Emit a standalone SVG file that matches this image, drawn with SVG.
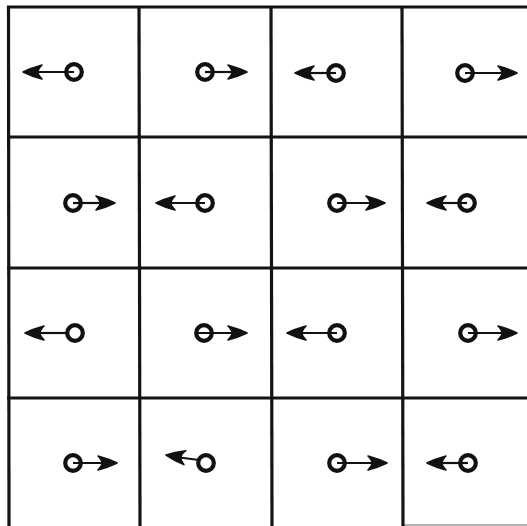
<svg xmlns="http://www.w3.org/2000/svg" xmlns:xlink="http://www.w3.org/1999/xlink" width="527" height="526" viewBox="0 0 527 526">
  <style>
    .grid line { stroke: #141414; stroke-width: 3.2; }
    .grid line.light { stroke: #9a9a9a; stroke-width: 1.5; }
    .ring { fill: none; stroke: #111; stroke-width: 4.2; }
    .shaft { stroke: #111; stroke-width: 2.2; }
    .head { fill: #111; stroke: #111; stroke-width: 1.6; stroke-linejoin: round; }
  </style>
  <defs>
    <path id="head" class="head" d="M0,0 Q-8,-4 -19,-7 Q-15,-3 -15,0 Q-15,3 -19,7 Q-8,4 0,0 Z"/>
  </defs>
  <rect width="527" height="526" fill="#fff"/>
  <g class="grid" id="grid">
    <line x1="7" y1="7" x2="527" y2="7"/>
    <line x1="7" y1="137" x2="527" y2="137"/>
    <line x1="7" y1="268" x2="527" y2="268"/>
    <line x1="7" y1="398" x2="527" y2="398"/>
    <line class="light" x1="403" y1="525" x2="527" y2="525"/>
    <line x1="8.5" y1="6" x2="9" y2="526"/>
    <line x1="139" y1="6" x2="140" y2="526"/>
    <line x1="271" y1="6" x2="272" y2="526"/>
    <line x1="402" y1="6" x2="403" y2="526"/>
  </g>
  <g id="cell-1-1"><line class="shaft" x1="74" y1="72" x2="33" y2="72"/><use href="#head" xlink:href="#head" transform="translate(23,72) rotate(180)"/><circle class="ring" cx="74" cy="72" r="7.8"/></g>
  <g id="cell-1-2"><line class="shaft" x1="205" y1="72" x2="237" y2="72"/><use href="#head" xlink:href="#head" transform="translate(247,72)"/><circle class="ring" cx="205" cy="72" r="7.8"/></g>
  <g id="cell-1-3"><line class="shaft" x1="336" y1="73" x2="305" y2="73"/><use href="#head" xlink:href="#head" transform="translate(295,73) rotate(180)"/><circle class="ring" cx="336" cy="73" r="7.8"/></g>
  <g id="cell-1-4"><line class="shaft" x1="465" y1="73" x2="507" y2="73"/><use href="#head" xlink:href="#head" transform="translate(517,73)"/><circle class="ring" cx="465" cy="73" r="7.8"/></g>

  <g id="cell-2-1"><line class="shaft" x1="73" y1="203" x2="105" y2="203"/><use href="#head" xlink:href="#head" transform="translate(115,203)"/><circle class="ring" cx="73" cy="203" r="7.8"/></g>
  <g id="cell-2-2"><line class="shaft" x1="205" y1="203" x2="166" y2="203"/><use href="#head" xlink:href="#head" transform="translate(156,203) rotate(180)"/><circle class="ring" cx="205" cy="203" r="7.8"/></g>
  <g id="cell-2-3"><line class="shaft" x1="337" y1="203" x2="375" y2="203"/><use href="#head" xlink:href="#head" transform="translate(385,203)"/><circle class="ring" cx="337" cy="203" r="7.8"/></g>
  <g id="cell-2-4"><line class="shaft" x1="467" y1="203" x2="437" y2="203"/><use href="#head" xlink:href="#head" transform="translate(427,203) rotate(180)"/><circle class="ring" cx="467" cy="203" r="7.8"/></g>

  <g id="cell-3-1"><line class="shaft" x1="67" y1="333" x2="35" y2="333"/><use href="#head" xlink:href="#head" transform="translate(25,333) rotate(180)"/><circle class="ring" cx="75" cy="333" r="7.8"/></g>
  <g id="cell-3-2"><line class="shaft" x1="198" y1="333" x2="237" y2="333"/><use href="#head" xlink:href="#head" transform="translate(247,333)"/><circle class="ring" cx="204" cy="333" r="7.8"/></g>
  <g id="cell-3-3"><line class="shaft" x1="337" y1="333" x2="297" y2="333"/><use href="#head" xlink:href="#head" transform="translate(287,333) rotate(180)"/><circle class="ring" cx="337" cy="333" r="7.8"/></g>
  <g id="cell-3-4"><line class="shaft" x1="468" y1="333" x2="507" y2="333"/><use href="#head" xlink:href="#head" transform="translate(517,333)"/><circle class="ring" cx="468" cy="333" r="7.8"/></g>

  <g id="cell-4-1"><line class="shaft" x1="73" y1="463" x2="107" y2="463"/><use href="#head" xlink:href="#head" transform="translate(117,463)"/><circle class="ring" cx="73" cy="463" r="7.8"/></g>
  <g id="cell-4-2"><line class="shaft" x1="199" y1="460" x2="176" y2="457"/><use href="#head" xlink:href="#head" transform="translate(166,455) rotate(188)"/><circle class="ring" cx="206" cy="463" r="7.8"/></g>
  <g id="cell-4-3"><line class="shaft" x1="337" y1="463" x2="377" y2="463"/><use href="#head" xlink:href="#head" transform="translate(387,463)"/><circle class="ring" cx="337" cy="463" r="7.8"/></g>
  <g id="cell-4-4"><line class="shaft" x1="468" y1="463" x2="437" y2="463"/><use href="#head" xlink:href="#head" transform="translate(427,463) rotate(180)"/><circle class="ring" cx="468" cy="463" r="7.8"/></g>
</svg>
